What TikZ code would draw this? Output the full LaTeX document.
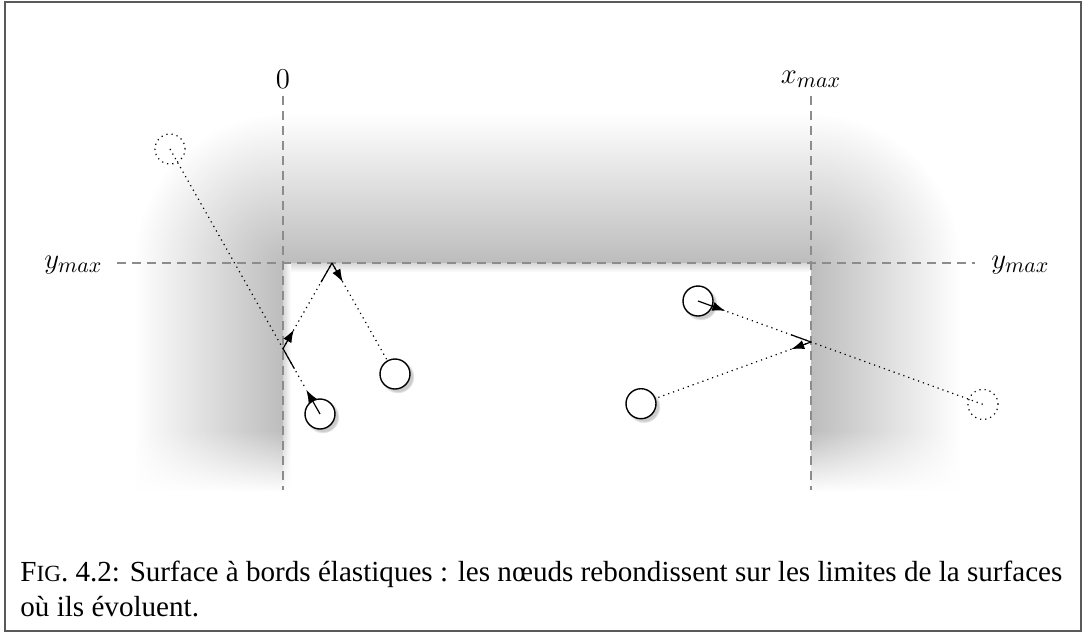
\documentclass[tikz,border=0pt]{standalone}
\usepackage{fontspec}
\newfontfamily\capfont{Liberation Serif}
\usetikzlibrary{arrows.meta,shadows,fadings,calc}

\tikzset{
  wall/.style={draw=black!45, line width=0.6pt, dash pattern=on 4.5pt off 3pt},
  mobile/.style={circle, draw=black, fill=white, line width=0.7pt,
    minimum size=15pt, inner sep=0pt,
    circular drop shadow={shadow xshift=1.2pt, shadow yshift=-1.2pt, shadow scale=1.12, opacity=0.4}},
  ghost/.style={circle, draw=black, dotted, line width=0.6pt, minimum size=15pt, inner sep=0pt},
  trail/.style={draw=black, dotted, line width=0.6pt},
  kick/.style={draw=black, line width=0.6pt, -{Latex[length=6.5pt,width=4.6pt]}},
  rebound/.style={draw=black, line width=0.6pt},
  axislabel/.style={font=\fontsize{15}{15}\selectfont, inner sep=0pt},
  caption/.style={font=\capfont\fontsize{14.55}{16}\selectfont, inner sep=0pt, anchor=base west}
}

\begin{document}
\begin{tikzpicture}[x=0.5pt, y=-0.5pt]
\useasboundingbox (0,0) rectangle (1083,633);

% soft grey border zone outside the elastic walls
\shade[top color=white, bottom color=black!26] (283,113) rectangle (811,263);
\shade[left color=white, right color=black!26] (133,263) rectangle (283,490);
\shade[left color=black!26, right color=white] (811,263) rectangle (961,490);
\begin{scope}
  \clip (133,113) rectangle (283,263);
  \shade[inner color=black!26, outer color=white] (283,263) circle (75pt);
\end{scope}
\begin{scope}
  \clip (811,113) rectangle (961,263);
  \shade[inner color=black!26, outer color=white] (811,263) circle (75pt);
\end{scope}

% inner shadow along the top and left walls of the surface
\shade[top color=black!16, bottom color=white] (283,263) rectangle (811,272);
\shade[left color=black!16, right color=white] (283,263) rectangle (291,490);

% fade out at the bottom of the side zones
\fill[white, path fading=north] (128,430) rectangle (300,492);
\fill[white, path fading=north] (805,430) rectangle (966,492);

% walls
\draw[wall] (283,96) -- (283,490);
\draw[wall] (811,96) -- (811,490);
\draw[wall] (117,263) -- (975,263);

\node[axislabel] (zero) at (283,79) {$0$};
\node[axislabel] (xmax) at (811,79) {$x_{max}$};
\node[axislabel, anchor=west] (ymaxl) at (44,265) {$y_{max}$};
\node[axislabel, anchor=west] (ymaxr) at (991,265) {$y_{max}$};

% bounce points
\coordinate (b1) at (283,348.6);
\coordinate (b2) at (332,263);
\coordinate (b3) at (811,342);

% ghost positions beyond the walls
\node[ghost] (E) at (170,149) {};
\node[ghost] (F) at (983,404.4) {};

% trajectories
\draw[trail] (E.center) -- (b1);
\draw[trail] (b1) -- ($(b1)!0.62!(320,414)$);
\draw[trail] (b1) -- (b2) -- (395,374);
\draw[trail] (698,301) -- (F.center);
\draw[trail] (b3) -- (641,403.7);

% mobile nodes
\node[mobile] (A) at (320,414) {};
\node[mobile] (B) at (395,374) {};
\node[mobile] (C) at (698,301) {};
\node[mobile] (D) at (641,403.7) {};

% velocity vectors and rebounds
\draw[kick] (A.center) -- ($(A.center)!14pt!(b1)$);
\draw[rebound] ($(b1)!11.5pt!(A.center)$) -- (b1);
\draw[kick] (b1) -- ($(b1)!11pt!(b2)$);
\draw[rebound] ($(b2)!11pt!(b1)$) -- (b2);
\draw[kick] (b2) -- ($(b2)!11pt!(B.center)$);

\draw[kick] (C.center) -- ($(C.center)!14.5pt!(b3)$);
\draw[rebound] ($(b3)!10.5pt!(C.center)$) -- (b3);
\draw[kick] (b3) -- ($(b3)!10.5pt!(D.center)$);

% caption
\node[caption] (cap1) at (20,581) {F{\fontsize{11.6}{13}\selectfont IG}. 4.2: Surface à bords élastiques : les nœuds rebondissent sur les limites de la surfaces};
\node[caption] (cap2) at (20,616) {où ils évoluent.};

% frame
\draw[black!65, line width=1pt] (5,2) rectangle (1081,631);
\end{tikzpicture}
\end{document}
